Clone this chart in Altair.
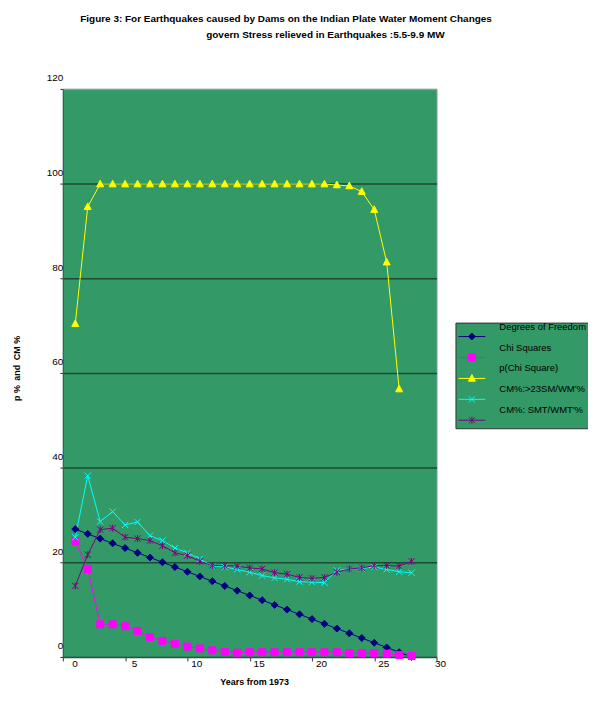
import altair as alt
import pandas as pd

# ---------------- data ----------------
years = list(range(1, 29))
series_names = ["Degrees of Freedom", "Chi Squares", "p(Chi Square)",
                "CM%:>23SM/WM'%", "CM%: SMT/WMT'%"]

degrees_of_freedom = [27, 26, 25, 24, 23, 22, 21, 20, 19, 18, 17, 16, 15, 14,
                      13, 12, 11, 10, 9, 8, 7, 6, 5, 4, 3, 2, 1, 0]
chi_squares = [24.4, 18.6, 6.9, 6.9, 6.5, 5.5, 4.2, 3.4, 2.8, 2.2, 1.8, 1.4,
               1.1, 0.9, 1.0, 1.0, 1.0, 1.0, 1.0, 1.0, 1.0, 1.0, 0.8, 0.8,
               0.8, 0.7, 0.4, 0.2]
p_chi_square = [70.4, 95.1, 99.9, 99.9, 99.9, 99.9, 99.9, 99.9, 99.9, 99.9,
                99.9, 99.9, 99.9, 99.9, 99.9, 99.9, 99.9, 99.9, 99.9, 99.9,
                99.9, 99.7, 99.5, 98.3, 94.5, 83.4, 56.6]
cm_23 = [25.3, 38.3, 28.6, 30.7, 27.9, 28.5, 25.6, 24.6, 23.0, 22.0, 20.7,
         19.2, 19.0, 18.5, 17.9, 17.2, 16.7, 16.4, 15.9, 15.8, 15.7, 18.3,
         18.6, 18.7, 19.0, 18.5, 18.0, 17.8]
cm_smt = [15.0, 21.6, 26.9, 27.2, 25.3, 25.0, 24.6, 23.5, 22.0, 21.4, 20.2,
          19.3, 19.3, 19.2, 18.8, 18.6, 17.8, 17.5, 16.8, 16.6, 16.8, 17.9,
          18.6, 18.8, 19.3, 19.3, 19.2, 20.2]

colors = ["#000080", "#FF00FF", "#FFFF00", "#00FFFF", "#800080"]

marker_paths = [
    "M0,-1L1,0L0,1L-1,0Z",
    "M-1,-1L1,-1L1,1L-1,1Z",
    "M0,-1.1L1,0.8L-1,0.8Z",
    "M-0.9,-0.9L0.9,0.9M-0.9,0.9L0.9,-0.9",
    "M-0.9,-0.9L0.9,0.9M-0.9,0.9L0.9,-0.9M0,-1L0,1",
]
# legend symbols: line + marker, drawn slightly below the entry's label
legend_paths = [
    "M-2.25,0.83L2.25,0.83M0,0.25L0.58,0.83L0,1.41L-0.58,0.83Z",
    "M-2.25,0.83L2.25,0.83M-0.58,0.25L0.58,0.25L0.58,1.41L-0.58,1.41Z",
    "M-2.25,0.83L2.25,0.83M0,0.19L0.58,1.3L-0.58,1.3Z",
    "M-2.25,0.83L2.25,0.83M-0.5,0.33L0.5,1.33M-0.5,1.33L0.5,0.33",
    "M-2.25,0.83L2.25,0.83M-0.5,0.33L0.5,1.33M-0.5,1.33L0.5,0.33M0,0.25L0,1.41",
]

title_line1 = "Figure 3: For Earthquakes caused by Dams on the Indian Plate Water Moment Changes"
title_line2 = "govern Stress relieved in Earthquakes :5.5-9.9 MW"

rows = []
for name, vals in zip(series_names,
                      [degrees_of_freedom, chi_squares, p_chi_square, cm_23, cm_smt]):
    for x, v in zip(years, vals):
        rows.append({"year": x, "value": v, "series": name})
df = pd.DataFrame(rows)

FONT = "Liberation Sans"
x_scale = alt.Scale(domain=[0, 30], nice=False, zero=False)
y_scale = alt.Scale(domain=[0, 120], nice=False)

x_bottom = alt.X("year:Q", scale=x_scale,
                 axis=alt.Axis(values=[0, 5, 10, 15, 20, 25, 30], tickSize=4,
                               tickColor="#333333", domainColor="#2f4f4f",
                               labelOffset=9, labelPadding=-2, labelFontSize=10,
                               labelFont=FONT, labelColor="black", grid=False,
                               title="Years from 1973", titleFont=FONT,
                               titleFontSize=9, titleFontWeight="bold",
                               titleColor="black", titleX=192, titleY=25,
                               titleBaseline="middle"))
# second title line carried by a bare top axis
x_top = alt.X("year:Q", scale=x_scale,
              axis=alt.Axis(orient="top", domain=False, ticks=False, labels=False,
                            grid=False, title=title_line2, titleFont=FONT,
                            titleFontSize=10, titleFontWeight="bold",
                            titleColor="black", titleX=263, titleY=-55,
                            titleBaseline="middle", titleAlign="center"))
x_none = alt.X("year:Q", scale=x_scale, axis=None)

y_enc = alt.Y("value:Q", scale=y_scale,
              axis=alt.Axis(values=[0, 20, 40, 60, 80, 100, 120], tickSize=3,
                            tickColor="#333333", domainColor="#2f4f4f",
                            labelOffset=-11, labelPadding=-3, labelFontSize=10,
                            labelFont=FONT, labelColor="black",
                            grid=True,
                            gridColor={"condition": {"test": "datum.value == 120",
                                                     "value": "#7aa39b"},
                                       "value": "#1d4a33"},
                            gridWidth=1.5,
                            title="p %\u2002and\u2002CM %", titleFont=FONT,
                            titleFontSize=9, titleFontWeight="bold",
                            titleColor="black", titleX=-46, titleY=280,
                            titleBaseline="middle"))

lines = alt.Chart(df).mark_line(strokeWidth=1).encode(
    x=x_bottom, y=y_enc,
    color=alt.Color("series:N", scale=alt.Scale(domain=series_names, range=colors),
                    legend=None),
    order=alt.Order("year:Q"),
)

points = alt.Chart(df).mark_point(filled=True, size=49, strokeWidth=1,
                                  opacity=1).encode(
    x=x_none, y=y_enc,
    shape=alt.Shape("series:N", scale=alt.Scale(domain=series_names, range=marker_paths),
                    legend=None),
    fill=alt.Fill("series:N", scale=alt.Scale(domain=series_names, range=colors),
                  legend=None),
    stroke=alt.Stroke("series:N", scale=alt.Scale(domain=series_names, range=colors),
                      legend=None),
)

leg = alt.Legend(orient="none", legendX=394, legendY=234.5, title=None,
                 fillColor="#339966", strokeColor="#333333", padding=2.5,
                 symbolSize=144, symbolStrokeWidth=1, symbolOpacity=1,
                 symbolOffset=7.5,
                 labelFontSize=9.5, labelFont=FONT, labelColor="black",
                 labelOffset=21, labelBaseline="bottom",
                 rowPadding=0, labelLimit=0)

legend_layer = alt.Chart(df).mark_point(filled=True, opacity=0).encode(
    x=x_top, y=y_enc,
    shape=alt.Shape("series:N", scale=alt.Scale(domain=series_names, range=legend_paths),
                    legend=leg),
    fill=alt.Fill("series:N", scale=alt.Scale(domain=series_names, range=colors),
                  legend=leg),
    stroke=alt.Stroke("series:N", scale=alt.Scale(domain=series_names, range=colors),
                      legend=leg),
)

chart = alt.layer(lines, points, legend_layer).resolve_scale(
    shape="independent", fill="independent", stroke="independent"
).resolve_legend(
    shape="independent", fill="independent", stroke="independent"
).resolve_axis(
    x="independent"
).properties(
    width=375, height=570,
    padding={"left": 55, "top": 80, "right": 152, "bottom": 40},
    autosize=alt.AutoSizeParams(type="none"),
    title=alt.TitleParams(text=title_line1,
                          font=FONT, fontSize=10, fontWeight="bold",
                          color="black", anchor="middle", dx=36.5, offset=5),
).configure(
    background="white",
    view=alt.ViewConfig(fill="#339966", stroke="#7aa39b", strokeWidth=1),
)

chart.save("out.html", embed_options={"renderer": "svg", "actions": False})
